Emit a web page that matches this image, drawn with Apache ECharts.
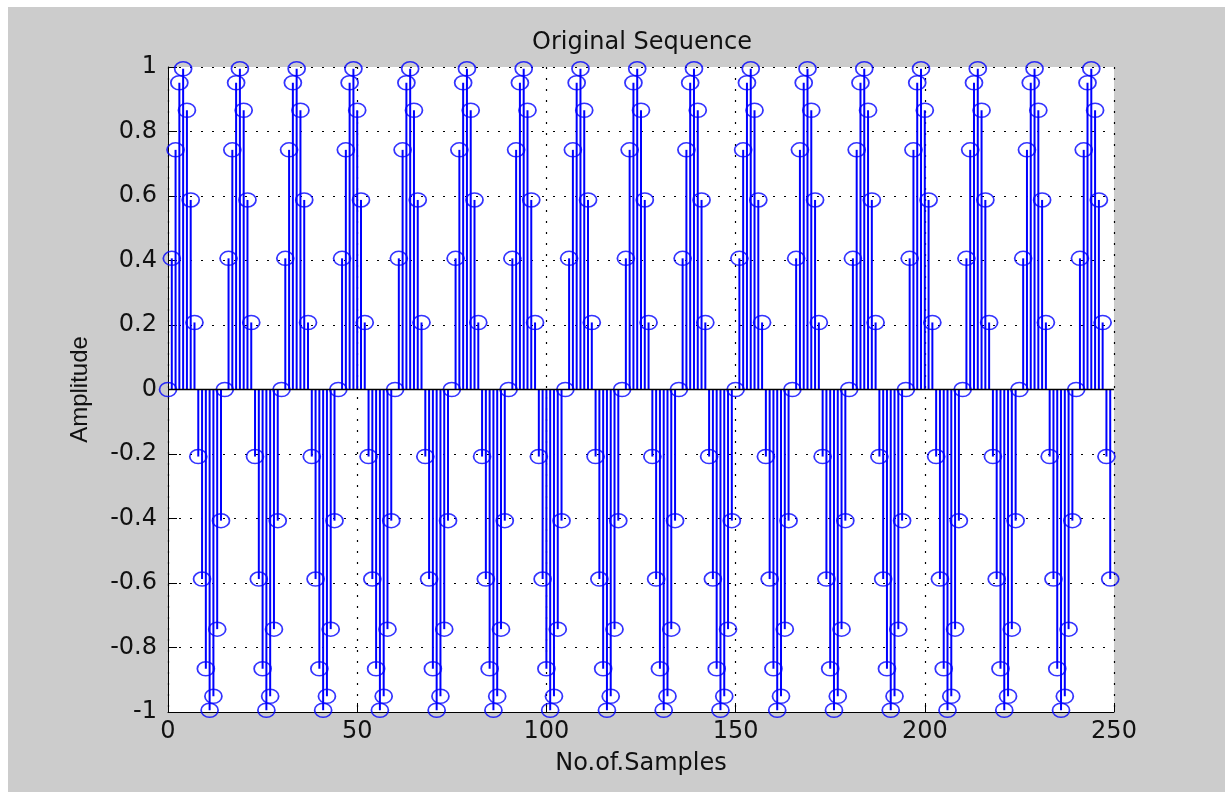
<!DOCTYPE html>
<html>
<head>
<meta charset="utf-8">
<title>Original Sequence</title>
<script src="https://cdn.jsdelivr.net/npm/echarts@6/dist/echarts.min.js"></script>
<style>
  html, body { margin: 0; padding: 0; background: #ffffff; width: 1225px; height: 792px; overflow: hidden; }
  #chart { position: absolute; left: 8px; top: 7px; width: 1217px; height: 785px; background: #cccccc; }
</style>
</head>
<body>
<div id="chart"></div>
<script>
// Sampled sequence, one value per sample index starting at 0
const amplitude = [
  0, 0.4067, 0.7431, 0.9511, 0.9945, 0.8660, 0.5878, 0.2079, -0.2079, -0.5878, -0.8660, -0.9945, -0.9511, -0.7431, -0.4067,
  0, 0.4067, 0.7431, 0.9511, 0.9945, 0.8660, 0.5878, 0.2079, -0.2079, -0.5878, -0.8660, -0.9945, -0.9511, -0.7431, -0.4067,
  0, 0.4067, 0.7431, 0.9511, 0.9945, 0.8660, 0.5878, 0.2079, -0.2079, -0.5878, -0.8660, -0.9945, -0.9511, -0.7431, -0.4067,
  0, 0.4067, 0.7431, 0.9511, 0.9945, 0.8660, 0.5878, 0.2079, -0.2079, -0.5878, -0.8660, -0.9945, -0.9511, -0.7431, -0.4067,
  0, 0.4067, 0.7431, 0.9511, 0.9945, 0.8660, 0.5878, 0.2079, -0.2079, -0.5878, -0.8660, -0.9945, -0.9511, -0.7431, -0.4067,
  0, 0.4067, 0.7431, 0.9511, 0.9945, 0.8660, 0.5878, 0.2079, -0.2079, -0.5878, -0.8660, -0.9945, -0.9511, -0.7431, -0.4067,
  0, 0.4067, 0.7431, 0.9511, 0.9945, 0.8660, 0.5878, 0.2079, -0.2079, -0.5878, -0.8660, -0.9945, -0.9511, -0.7431, -0.4067,
  0, 0.4067, 0.7431, 0.9511, 0.9945, 0.8660, 0.5878, 0.2079, -0.2079, -0.5878, -0.8660, -0.9945, -0.9511, -0.7431, -0.4067,
  0, 0.4067, 0.7431, 0.9511, 0.9945, 0.8660, 0.5878, 0.2079, -0.2079, -0.5878, -0.8660, -0.9945, -0.9511, -0.7431, -0.4067,
  0, 0.4067, 0.7431, 0.9511, 0.9945, 0.8660, 0.5878, 0.2079, -0.2079, -0.5878, -0.8660, -0.9945, -0.9511, -0.7431, -0.4067,
  0, 0.4067, 0.7431, 0.9511, 0.9945, 0.8660, 0.5878, 0.2079, -0.2079, -0.5878, -0.8660, -0.9945, -0.9511, -0.7431, -0.4067,
  0, 0.4067, 0.7431, 0.9511, 0.9945, 0.8660, 0.5878, 0.2079, -0.2079, -0.5878, -0.8660, -0.9945, -0.9511, -0.7431, -0.4067,
  0, 0.4067, 0.7431, 0.9511, 0.9945, 0.8660, 0.5878, 0.2079, -0.2079, -0.5878, -0.8660, -0.9945, -0.9511, -0.7431, -0.4067,
  0, 0.4067, 0.7431, 0.9511, 0.9945, 0.8660, 0.5878, 0.2079, -0.2079, -0.5878, -0.8660, -0.9945, -0.9511, -0.7431, -0.4067,
  0, 0.4067, 0.7431, 0.9511, 0.9945, 0.8660, 0.5878, 0.2079, -0.2079, -0.5878, -0.8660, -0.9945, -0.9511, -0.7431, -0.4067,
  0, 0.4067, 0.7431, 0.9511, 0.9945, 0.8660, 0.5878, 0.2079, -0.2079, -0.5878, -0.8660, -0.9945, -0.9511, -0.7431, -0.4067,
  0, 0.4067, 0.7431, 0.9511, 0.9945, 0.8660, 0.5878, 0.2079, -0.2079, -0.5878
];

const xTicks = { min: 0, max: 250, step: 50 };
const yTicks = { min: -1, max: 1, step: 0.2 };

const titleText = 'Original Sequence';
const xName = 'No.of.Samples';
const yName = 'Amplitude';

// [sample index, amplitude] pairs
const points = amplitude.map((v, n) => [n, v]);

const STEM = '#0000ff';
const TEXT = '#111111';
const hFont = 'DejaVu Sans';
const vFont = 'Liberation Sans';

const chart = echarts.init(document.getElementById('chart'), null, { renderer: 'canvas' });

chart.setOption({
  backgroundColor: 'transparent',
  animation: false,
  title: {
    text: titleText,
    left: 629,
    top: 19,
    textAlign: 'center',
    textStyle: { fontFamily: hFont, fontSize: 24, fontWeight: 'normal', color: TEXT }
  },
  grid: {
    left: 160, top: 60, width: 946, height: 645,
    show: true, backgroundColor: '#ffffff', borderWidth: 0,
    containLabel: false
  },
  xAxis: {
    type: 'value',
    min: xTicks.min, max: xTicks.max, interval: xTicks.step,
    name: xName,
    nameLocation: 'middle',
    nameGap: 40,
    nameTextStyle: { fontFamily: hFont, fontSize: 24, color: TEXT },
    axisLine: { show: true, onZero: false, lineStyle: { color: '#000', width: 1 } },
    axisTick: { show: true, inside: true, length: 9, lineStyle: { color: '#000', width: 1 } },
    axisLabel: { margin: 8, fontFamily: hFont, fontSize: 24, color: TEXT },
    splitLine: { show: true, lineStyle: { color: '#000', width: 1.2, type: [2, 9] } }
  },
  yAxis: {
    type: 'value',
    min: yTicks.min, max: yTicks.max, interval: yTicks.step,
    name: yName,
    nameLocation: 'middle',
    nameGap: 76,
    nameTextStyle: { fontFamily: vFont, fontSize: 24, color: TEXT },
    axisLine: { show: true, onZero: false, lineStyle: { color: '#000', width: 1 } },
    axisTick: { show: true, inside: true, length: 9, lineStyle: { color: '#000', width: 1 } },
    axisLabel: { margin: 11, fontFamily: hFont, fontSize: 24, color: TEXT,
      formatter: v => String(Math.round(v * 10) / 10) },
    splitLine: { show: true, lineStyle: { color: '#000', width: 1.2, type: [2, 9] } }
  },
  series: [
    {
      // stems from the zero baseline up/down to each sample value
      type: 'custom',
      coordinateSystem: 'cartesian2d',
      silent: true,
      clip: false,
      data: points,
      encode: { x: 0, y: 1 },
      renderItem: function (params, api) {
        const x = api.value(0);
        const y = api.value(1);
        const p0 = api.coord([x, 0]);
        const p1 = api.coord([x, y]);
        return {
          type: 'line',
          shape: { x1: p0[0], y1: p0[1], x2: p1[0], y2: p1[1] },
          style: { stroke: STEM, lineWidth: 2 }
        };
      },
      markLine: {
        silent: true,
        symbol: 'none',
        label: { show: false },
        lineStyle: { color: '#000', width: 1.4, type: 'solid' },
        data: [{ yAxis: 0 }]
      },
      z: 2
    },
    {
      // open (unfilled) circle heads on each stem
      type: 'scatter',
      data: points,
      symbol: 'circle',
      symbolSize: [17, 14],
      clip: false,
      silent: true,
      itemStyle: { color: 'rgba(0,0,0,0)', borderColor: STEM, borderWidth: 1.6 },
      z: 3
    }
  ]
});
</script>
</body>
</html>
